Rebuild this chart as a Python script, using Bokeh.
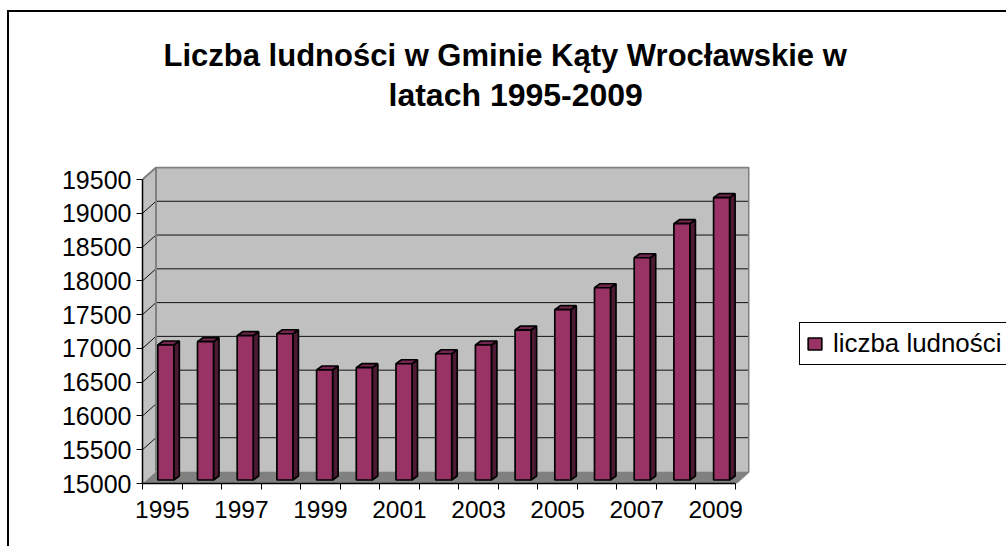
from bokeh.plotting import figure
from bokeh.models import Range1d, FixedTicker, Title, Legend, LegendItem
from bokeh.embed import file_html
from bokeh.resources import INLINE

years = list(range(1995, 2010))
population = [16998, 17047, 17136, 17165, 16628, 16662, 16721, 16869, 16998, 17220, 17521, 17846, 18290, 18794, 19179]
value_ticks = list(range(15000, 20000, 500))
title_lines = ["Liczba ludności w Gminie Kąty Wrocławskie w", "latach 1995-2009"]
legend_label = "liczba ludności"

FONT = "Liberation Sans"
OX, OY = 9, 12                            # canvas origin inside the left and top border
W, H = 1006 - OX, 546 - OY
L, R, T, B = 142, 749, 166, 483           # frame in picture pixels
n = len(years)
px_per_cat = (735 - 142) / n
px_per_val = (482.5 - 178.5) / 4500

def xd(px):
    return (px - L) / px_per_cat
def yd(py):
    return 15000 + (B - py) / px_per_val
def dx(px):
    return px / px_per_cat
def dy(px):
    return px / px_per_val

p = figure(width=W, height=H, output_backend="svg", toolbar_location=None,
           x_range=Range1d(xd(L), xd(R)), y_range=Range1d(yd(B), yd(T)),
           frame_width=R - L, frame_height=B - T,
           min_border_left=L - OX, min_border_right=0,
           min_border_top=T - OY, min_border_bottom=546 - B)
p.styles = {"margin-left": "7px", "margin-top": "10px",
            "border-left": "2px solid black", "border-top": "2px solid black"}
p.outline_line_color = None
p.grid.visible = False
p.background_fill_color = "white"

wall_x, wall_y = dx(13.5), dy(12)
ymin, ymax = value_ticks[0], value_ticks[-1]
xmax = float(n)

# walls and floor
p.patch([0, wall_x, wall_x, 0], [ymin, ymin + wall_y, ymax + wall_y, ymax], fill_color="#c0c0c0", line_color=None)
p.patch([wall_x, xmax + wall_x, xmax + wall_x, wall_x], [ymin + wall_y, ymin + wall_y, ymax + wall_y, ymax + wall_y],
        fill_color="#c0c0c0", line_color=None)
p.patch([0, wall_x, xmax + wall_x, xmax], [ymin, ymin + wall_y, ymin + wall_y, ymin], fill_color="#808080", line_color=None)

# grid lines on both walls
gy = value_ticks[1:-1]
p.segment([wall_x] * len(gy), [v + wall_y for v in gy], [xmax + wall_x] * len(gy), [v + wall_y for v in gy],
          line_color="#111111", line_width=1)
p.segment([0] * len(gy), gy, [wall_x] * len(gy), [v + wall_y for v in gy], line_color="#111111", line_width=1)

# wall edges
p.line([0, wall_x, xmax + wall_x, xmax + wall_x, xmax],
       [ymax, ymax + wall_y, ymax + wall_y, ymin + wall_y, ymin], line_color="#808080", line_width=2)
p.line([wall_x, wall_x], [ymin + wall_y, ymax + wall_y], line_color="#808080", line_width=2)

# bars
bar_first, bar_step, bar_w = dx(157.3 - 142), dx(39.7), dx(16)
side_x, side_y = dx(5.5), dy(4)
base = dy(3.5)
lefts = [bar_first + i * bar_step for i in range(n)]
rights = [x + bar_w for x in lefts]
bots = [ymin + base] * n
tops = [v + base for v in population]

p.patches([[r, r + side_x, r + side_x, r] for r in rights],
          [[b, b + side_y, t + side_y, t] for b, t in zip(bots, tops)],
          fill_color="#4d1a33", line_color="black", line_width=1.7)
p.patches([[l, l + side_x, r + side_x, r] for l, r in zip(lefts, rights)],
          [[t, t + side_y, t + side_y, t] for t in tops],
          fill_color="#732650", line_color="black", line_width=1.7)
front = p.patches([[l, r, r, l] for l, r in zip(lefts, rights)],
                  [[b, b, t, t] for b, t in zip(bots, tops)],
                  fill_color="#993366", line_color="black", line_width=1.7)

# axes
yax = p.yaxis[0]
yax.ticker = FixedTicker(ticks=value_ticks)
yax.bounds = (ymin, ymax)
yax.minor_tick_line_color = None
yax.major_tick_in = 0
yax.major_tick_out = 6
yax.major_label_standoff = 5
yax.major_label_text_font = FONT
yax.major_label_text_font_size = "25px"
yax.major_label_text_color = "black"
yax.axis_line_color = "black"
yax.axis_line_width = 1.5
yax.major_tick_line_color = "black"

xax = p.xaxis[0]
label_pos = [i + 0.5 for i in range(0, n, 2)]
xax.ticker = FixedTicker(ticks=label_pos, minor_ticks=list(range(n + 1)))
xax.major_label_overrides = {i + 0.5: str(years[i]) for i in range(0, n, 2)}
xax.bounds = (0, xmax)
xax.major_tick_in = 0
xax.major_tick_out = 0
xax.minor_tick_in = 0
xax.minor_tick_out = 6
xax.minor_tick_line_color = "black"
xax.major_label_standoff = 11
xax.major_label_text_font = FONT
xax.major_label_text_font_size = "24.5px"
xax.major_label_text_color = "black"
xax.axis_line_color = "black"
xax.axis_line_width = 1.5

# title: a blank spacer line keeps the two real lines well above the chart
p.add_layout(Title(text=" ", standoff=20, text_font=FONT, text_font_size="29px"), "above")
p.add_layout(Title(text=title_lines[1], align="left", offset=388 - L, standoff=0, text_font=FONT,
                   text_font_style="bold", text_font_size="32px", text_color="black"), "above")
p.add_layout(Title(text=title_lines[0], align="left", offset=163 - L, standoff=3, text_font=FONT,
                   text_font_style="bold", text_font_size="31px", text_color="black"), "above")

# legend
leg = Legend(items=[LegendItem(label=legend_label, renderers=[front])],
             location=(50, 118), orientation="vertical",
             label_text_font=FONT, label_text_font_size="25.9px", label_text_color="black",
             glyph_width=17, glyph_height=15, label_standoff=10, padding=6, margin=0,
             border_line_color="black", border_line_alpha=1, border_line_width=1.3, background_fill_alpha=1)
p.add_layout(leg, "right")

open("out.html", "w").write(file_html(p, INLINE))
